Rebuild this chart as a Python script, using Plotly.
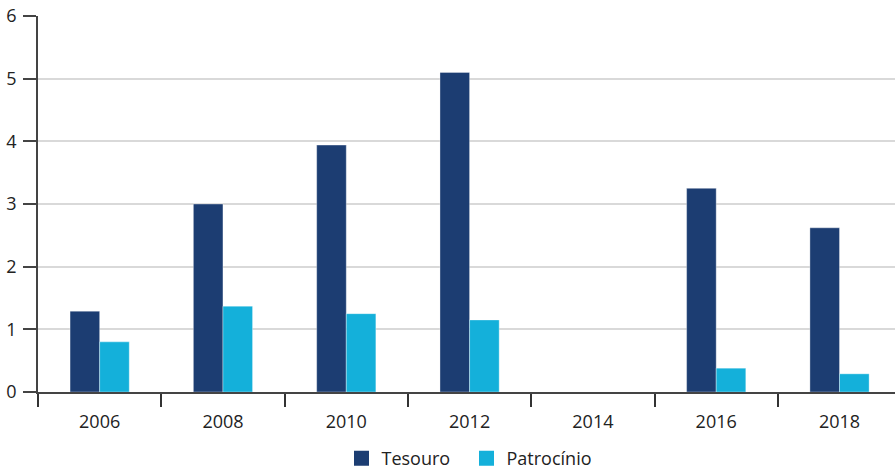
import plotly.graph_objects as go

years = ["2006", "2008", "2010", "2012", "2014", "2016", "2018"]
tesouro = [1.29, 3.0, 3.94, 5.1, None, 3.25, 2.62]
patrocinio = [0.8, 1.37, 1.25, 1.15, None, 0.38, 0.29]
series_names = ["Tesouro", "Patrocínio"]

dark = "#1c3d72"
light = "#14b0da"
font = "Open Sans"

fig = go.Figure()
fig.add_bar(x=years, y=tesouro, name=series_names[0], showlegend=False,
            marker=dict(color=dark, line=dict(color="rgba(255,255,255,0.35)", width=1)))
fig.add_bar(x=years, y=patrocinio, name=series_names[1], showlegend=False,
            marker=dict(color=light, line=dict(color="rgba(255,255,255,0.35)", width=1)))
# legend entries with larger square symbols
for nm, col in zip(series_names, [dark, light]):
    fig.add_scatter(x=[None], y=[None], mode="markers", name=nm,
                    marker=dict(symbol="square", size=15, color=col))

fig.update_layout(
    width=895, height=469,
    margin=dict(l=38, r=0, t=16, b=77, autoexpand=False),
    plot_bgcolor="white", paper_bgcolor="white",
    barmode="group", bargap=0.52, bargroupgap=0,
    font=dict(family=font, size=17, color="#222222"),
    showlegend=True,
    legend=dict(orientation="h", x=0.5, xanchor="center", y=-0.128, yanchor="top",
                font=dict(size=18), itemwidth=30, traceorder="normal",
                entrywidth=80, entrywidthmode="pixels"),
    xaxis=dict(type="category", range=[-0.5, 6.45], showline=True, linecolor="#444444", linewidth=1.5,
               ticks="outside", tickson="boundaries", ticklen=13, tickcolor="#333333", tickwidth=1.5,
               showgrid=False, tickfont=dict(size=18), ticklabelstandoff=13, automargin=False),
    yaxis=dict(range=[0, 6], dtick=1, showline=True, linecolor="#444444", linewidth=1.5,
               ticks="outside", ticklen=13, tickcolor="#444444", tickwidth=1.5,
               showgrid=True, gridcolor="#d9d9d9", gridwidth=1.5, zeroline=False,
               tickfont=dict(size=18), ticklabelstandoff=3, automargin=False),
)
fig.write_html("out.html")
